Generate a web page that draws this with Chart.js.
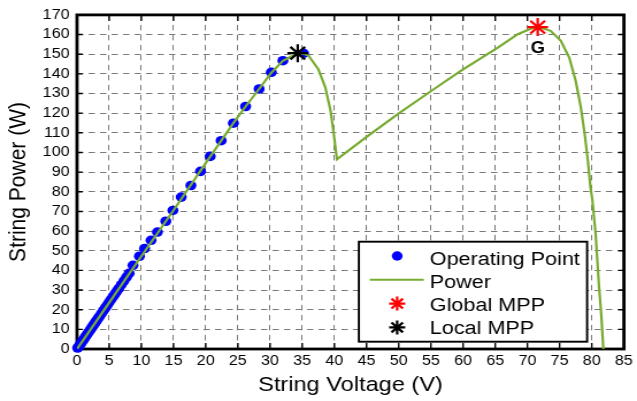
<!DOCTYPE html>
<html>
<head>
<meta charset="utf-8">
<script src="https://cdn.jsdelivr.net/npm/chart.js@4"></script>
<style>
  html, body { margin: 0; padding: 0; background: #fff; }
</style>
</head>
<body>
<!-- the original figure is slightly stretched sideways, so draw narrow and stretch -->
<canvas id="chart" width="554" height="401" style="width:637px;height:401px;display:block"></canvas>
<script>
// =============================
// DATA
// =============================
const opVoltage = [0.1, 0.3, 0.5, 0.7, 0.9, 1.1, 1.3, 1.5, 1.7, 1.9, 2.1, 2.3, 2.5, 2.7, 2.9, 3.1, 3.3, 3.5, 3.8, 4.1,
    4.4, 4.7, 5.0, 5.3, 5.6, 5.9, 6.2, 6.5, 6.9, 7.3, 7.7, 8.1, 8.7, 9.7, 10.5, 11.5, 12.5, 13.8, 14.9, 16.2,
    17.7, 19.2, 20.7, 22.4, 24.3, 26.2, 28.3, 30.2, 32.0, 35.2];
const opPower = [0.5, 1.4, 2.4, 3.3, 4.3, 5.2, 6.2, 7.1, 8.1, 9.0, 10.0, 10.9, 11.9, 12.8, 13.8, 14.7, 15.7, 16.6, 18.0, 19.5,
    20.9, 22.3, 23.8, 25.2, 26.6, 28.0, 29.5, 30.9, 32.8, 34.7, 36.6, 38.5, 42.6, 47.2, 51.1, 55.3, 59.5, 65.0, 70.5, 77.3,
    83.2, 90.4, 98.0, 106.0, 114.9, 123.4, 132.3, 140.8, 146.7, 150.4];

const powerVoltage = [0, 5, 10, 15, 20, 24.3, 26.2, 28.3, 30.2, 32.0, 33.5, 34.5, 35.2, 36.0, 37.5, 38.6, 39.4, 39.9, 40.4,
    44.8, 49.9, 55.1, 59.7, 65.4, 68.5, 70.5, 71.6, 73.6, 75.2, 76.5, 77.5, 78.3, 78.9, 79.4, 79.8, 80.1, 80.6, 81.1, 81.5, 81.8];
const powerValues = [0, 23.6, 47.2, 70.6, 94.6, 114.9, 123.4, 132.3, 140.6, 146.6, 149.2, 150.3, 150.4, 149.2, 142.4, 133.0, 121.3, 109.5, 96.5,
    107.4, 119.6, 131.4, 141.6, 153.4, 160.2, 163.0, 164.0, 161.9, 156.8, 148.3, 136.5, 123.0, 109.5, 95.9, 82.4, 75.6, 58.7, 33.3, 16.4, 0];

const globalMpp = [71.6, 163.8];
const localMpp = [34.3, 150.5];
const globalLabel = "G";

const legendLabels = ["Operating Point", "Power", "Global MPP", "Local MPP"];
const xTickValues = [0, 5, 10, 15, 20, 25, 30, 35, 40, 45, 50, 55, 60, 65, 70, 75, 80, 85];
const yTickValues = [0, 10, 20, 30, 40, 50, 60, 70, 80, 90, 100, 110, 120, 130, 140, 150, 160, 170];

const FONT = "'Liberation Sans', Arial, Helvetica, sans-serif";

// =============================
// HELPERS
// =============================
function toPoints(xs, ys) {
    return xs.map((v, i) => ({ x: v, y: ys[i] }));
}

function drawStar(ctx, x, y, r) {
    const d = r * Math.SQRT1_2;
    ctx.beginPath();
    ctx.moveTo(x - r, y); ctx.lineTo(x + r, y);
    ctx.moveTo(x, y - r); ctx.lineTo(x, y + r);
    ctx.moveTo(x - d, y - d); ctx.lineTo(x + d, y + d);
    ctx.moveTo(x - d, y + d); ctx.lineTo(x + d, y - d);
    ctx.stroke();
}

// box with inward ticks (matlab style), the "G" tag and the legend
const framePlugin = {
    id: "frame",
    beforeDatasetsDraw(chart) {
        const { ctx, chartArea: a, scales: { x, y } } = chart;
        ctx.save();
        ctx.strokeStyle = "#000";
        ctx.lineWidth = 1.4;
        ctx.beginPath();
        xTickValues.forEach(v => {
            const px = x.getPixelForValue(v);
            ctx.moveTo(px, a.bottom); ctx.lineTo(px, a.bottom - 6);
            ctx.moveTo(px, a.top); ctx.lineTo(px, a.top + 6);
        });
        yTickValues.forEach(v => {
            const py = y.getPixelForValue(v);
            ctx.moveTo(a.left, py); ctx.lineTo(a.left + 5, py);
            ctx.moveTo(a.right, py); ctx.lineTo(a.right - 5, py);
        });
        ctx.stroke();
        ctx.lineWidth = 2.8;
        ctx.strokeRect(a.left, a.top, a.right - a.left, a.bottom - a.top);
        ctx.restore();
    },
    afterDatasetsDraw(chart) {
        const { ctx, chartArea: a, scales: { x, y } } = chart;
        const ds = chart.data.datasets;
        ctx.save();

        // G tag under the global peak
        ctx.fillStyle = "#000";
        ctx.font = "bold 16px " + FONT;
        ctx.textAlign = "center";
        ctx.textBaseline = "middle";
        ctx.fillText(globalLabel, x.getPixelForValue(globalMpp[0]), y.getPixelForValue(153));

        // legend box
        const w = 198.5, h = 100;
        const left = a.right - 32 - w;
        const top = a.bottom - 7.3 - h;
        ctx.fillStyle = "#fff";
        ctx.fillRect(left, top, w, h);
        ctx.strokeStyle = "#000";
        ctx.lineWidth = 1.9;
        ctx.strokeRect(left, top, w, h);

        ctx.font = "18.8px " + FONT;
        ctx.textAlign = "left";
        ctx.textBaseline = "alphabetic";
        legendLabels.forEach((label, i) => {
            const sy = top + 14.3 + i * 23.8;
            const sx = left + 33.3;
            if (i === 0) {
                ctx.fillStyle = ds[0].backgroundColor;
                ctx.beginPath();
                ctx.arc(sx, sy, 4.7, 0, Math.PI * 2);
                ctx.fill();
            } else if (i === 1) {
                ctx.strokeStyle = ds[1].borderColor;
                ctx.lineWidth = 2;
                ctx.beginPath();
                ctx.moveTo(left + 9.5, sy); ctx.lineTo(left + 56.5, sy);
                ctx.stroke();
            } else {
                ctx.strokeStyle = ds[i].borderColor;
                ctx.lineWidth = 2.2;
                drawStar(ctx, sx, sy, 7);
            }
            ctx.fillStyle = "#000";
            ctx.fillText(label, left + 61.7, top + 23.3 + i * 23.1);
        });
        ctx.restore();
    }
};

// =============================
// CHART
// =============================
const canvas = document.getElementById("chart");

new Chart(canvas, {
    type: "scatter",
    data: {
        datasets: [
            {
                label: legendLabels[0],
                data: toPoints(opVoltage, opPower),
                backgroundColor: "#0000ff",
                borderWidth: 0,
                pointRadius: 4.8,
                clip: false,
                order: 2
            },
            {
                label: legendLabels[1],
                data: toPoints(powerVoltage, powerValues),
                showLine: true,
                borderColor: "#77ac30",
                borderWidth: 2.2,
                pointRadius: 0,
                tension: 0,
                order: 1
            },
            {
                label: legendLabels[2],
                data: [{ x: globalMpp[0], y: globalMpp[1] }],
                pointStyle: "star",
                pointRadius: 9,
                borderColor: "#ff0000",
                borderWidth: 2.2,
                clip: false,
                order: 0
            },
            {
                label: legendLabels[3],
                data: [{ x: localMpp[0], y: localMpp[1] }],
                pointStyle: "star",
                pointRadius: 9,
                borderColor: "#000000",
                borderWidth: 2.2,
                clip: false,
                order: 0
            }
        ]
    },
    options: {
        responsive: false,
        animation: false,
        devicePixelRatio: 1,
        layout: { padding: { top: 14, right: 9, bottom: 0, left: 0 } },
        plugins: {
            legend: { display: false },
            tooltip: { enabled: false }
        },
        scales: {
            x: {
                type: "linear",
                min: 0,
                max: 85,
                afterBuildTicks: s => { s.ticks = xTickValues.map(v => ({ value: v })); },
                afterFit: s => { s.height = 52; },
                grid: { color: "#7a7a7a", lineWidth: 1, drawTicks: false },
                border: { display: false, dash: [5.5, 4.5] },
                ticks: { color: "#000", padding: 3.6, autoSkip: false, maxRotation: 0, font: { family: FONT, size: 14 } },
                title: {
                    display: true,
                    text: "String Voltage (V)",
                    color: "#000",
                    font: { family: FONT, size: 20.5 },
                    padding: { top: 0, bottom: 3.7 }
                }
            },
            y: {
                type: "linear",
                min: 0,
                max: 170,
                afterBuildTicks: s => { s.ticks = yTickValues.map(v => ({ value: v })); },
                afterFit: s => { s.width = 66.97; },
                grid: { color: "#7a7a7a", lineWidth: 1, drawTicks: false },
                border: { display: false, dash: [5.5, 4.5] },
                ticks: { color: "#000", padding: 6.5, autoSkip: false, font: { family: FONT, size: 14 } },
                title: {
                    display: true,
                    text: "String Power (W)",
                    color: "#000",
                    font: { family: FONT, size: 21 },
                    padding: { top: 4.1, bottom: 0 }
                }
            }
        }
    },
    plugins: [framePlugin]
});
</script>
</body>
</html>
